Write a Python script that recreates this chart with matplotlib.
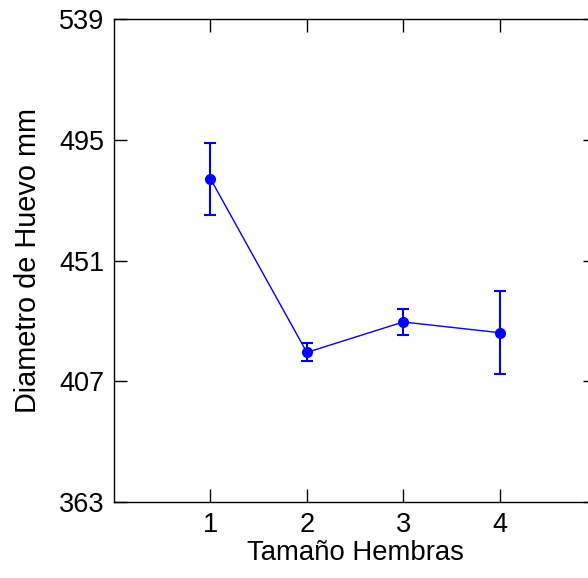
import matplotlib
matplotlib.use('Agg')
import matplotlib.pyplot as plt

# data
tamano = [1, 2, 3, 4]
diametro = [480.8, 417.5, 428.6, 424.7]
error = [13.1, 3.3, 4.7, 15.2]

plt.rcParams['font.family'] = ['Liberation Sans', 'DejaVu Sans']

fig = plt.figure(figsize=(5.88, 5.78), dpi=100)
ax = fig.add_axes([0.194, 0.1315, 0.8196, 0.8356])

ax.errorbar(tamano, diametro, yerr=error, color='#0000ff', marker='o',
            markersize=7, linewidth=1, elinewidth=1.5, capsize=4.5,
            capthick=1.5)

ax.set_xlim(0, 5)
ax.set_ylim(363, 539)
ax.set_xticks([1, 2, 3, 4])
ax.set_yticks([363, 407, 451, 495, 539])

ax.tick_params(direction='in', length=9.5, width=1, labelsize=19.5,
               top=True, right=True, pad=7)
for s in ax.spines.values():
    s.set_linewidth(1)

ax.set_xlabel('Tamaño Hembras', fontsize=19.8, labelpad=2)
ax.set_ylabel('Diametro de Huevo mm', fontsize=20.8, labelpad=12)

fig.savefig('out.png', dpi=100)
